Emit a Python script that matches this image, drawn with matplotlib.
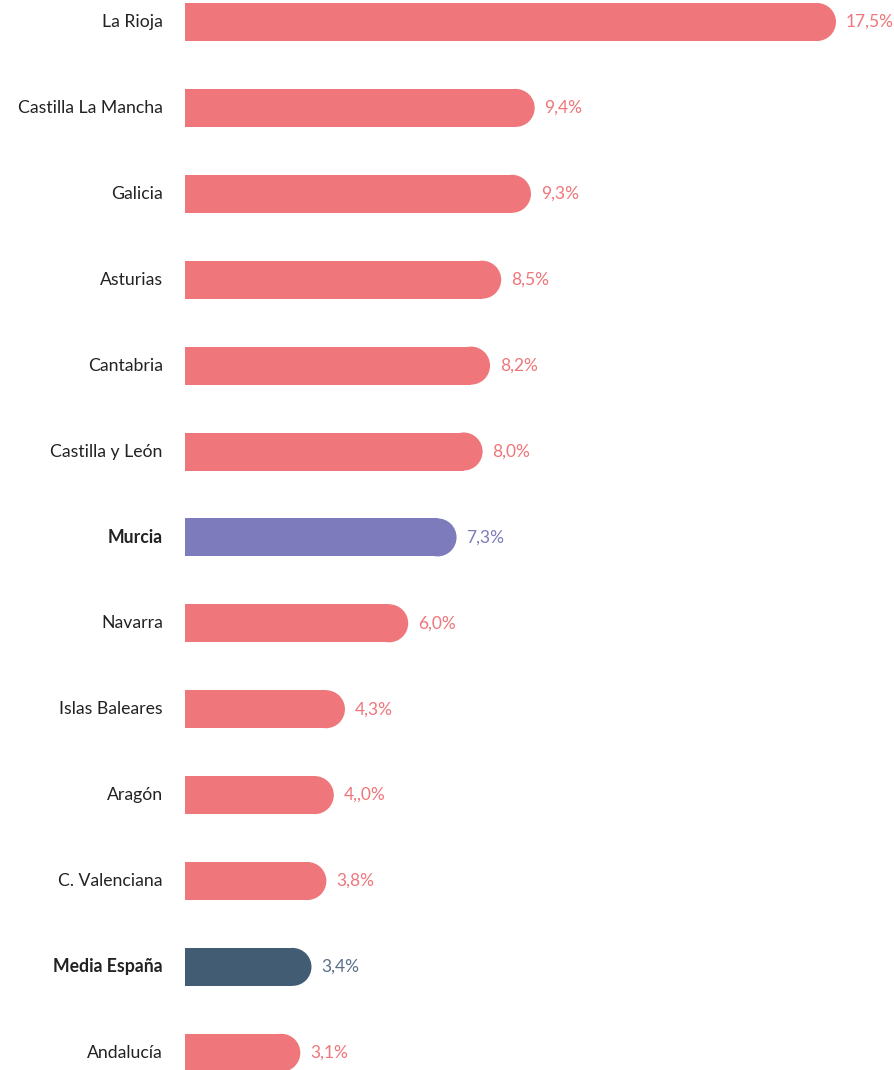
# Crecimiento por comunidad autonoma - barras horizontales con extremo redondeado
import matplotlib.pyplot as plt
from matplotlib.patches import Ellipse

regiones = ['La Rioja', 'Castilla La Mancha', 'Galicia', 'Asturias', 'Cantabria',
            'Castilla y León', 'Murcia', 'Navarra', 'Islas Baleares', 'Aragón',
            'C. Valenciana', 'Media España', 'Andalucía']
valores = [17.5, 9.4, 9.3, 8.5, 8.2, 8.0, 7.3, 6.0, 4.3, 4.0, 3.8, 3.4, 3.1]
etiquetas = ['17,5%', '9,4%', '9,3%', '8,5%', '8,2%', '8,0%', '7,3%', '6,0%',
             '4,3%', '4,,0%', '3,8%', '3,4%', '3,1%']
destacadas = ['Murcia', 'Media España']

ROJO = '#ef767a'
MORADO = '#7d7bbc'
AZUL = '#425c74'
colores = {'Murcia': MORADO, 'Media España': AZUL}
colores_txt = {'Murcia': MORADO, 'Media España': '#5a7089'}

plt.rcParams['font.family'] = ['Lato', 'DejaVu Sans']

W, H = 895, 1070
fig = plt.figure(figsize=(W / 100, H / 100), dpi=100)
ax = fig.add_axes([185 / W, 0, 707 / W, 1])

paso = 85.9  # px por fila
ax.set_xlim(0, 707 / 37.2)
ax.set_ylim((H - 22) / paso, -22 / paso)
ax.axis('off')

alto = 38 / paso
t0 = ax.transData.transform((0, 0))
t1 = ax.transData.transform((1, 1))
sx = t1[0] - t0[0]
sy = abs(t1[1] - t0[1])
rx = (alto * sy / 2) / sx  # radio del extremo en unidades x

for i, (reg, v, lab) in enumerate(zip(regiones, valores, etiquetas)):
    c = colores.get(reg, ROJO)
    ax.barh(i, v - rx, height=alto, color=c, linewidth=0)
    ax.add_patch(Ellipse((v - rx, i), 2 * rx, alto, color=c, linewidth=0))
    peso = 'bold' if reg in destacadas else 'normal'
    ax.annotate(reg, xy=(0, i), xytext=(-16, 0), textcoords='offset points',
                ha='right', va='center', fontsize=12.7, color='#222222',
                fontweight=peso)
    ax.annotate(lab, xy=(v, i), xytext=(7, 0), textcoords='offset points',
                ha='left', va='center', fontsize=12.5,
                color=colores_txt.get(reg, ROJO))

fig.savefig('out.png', dpi=100)
